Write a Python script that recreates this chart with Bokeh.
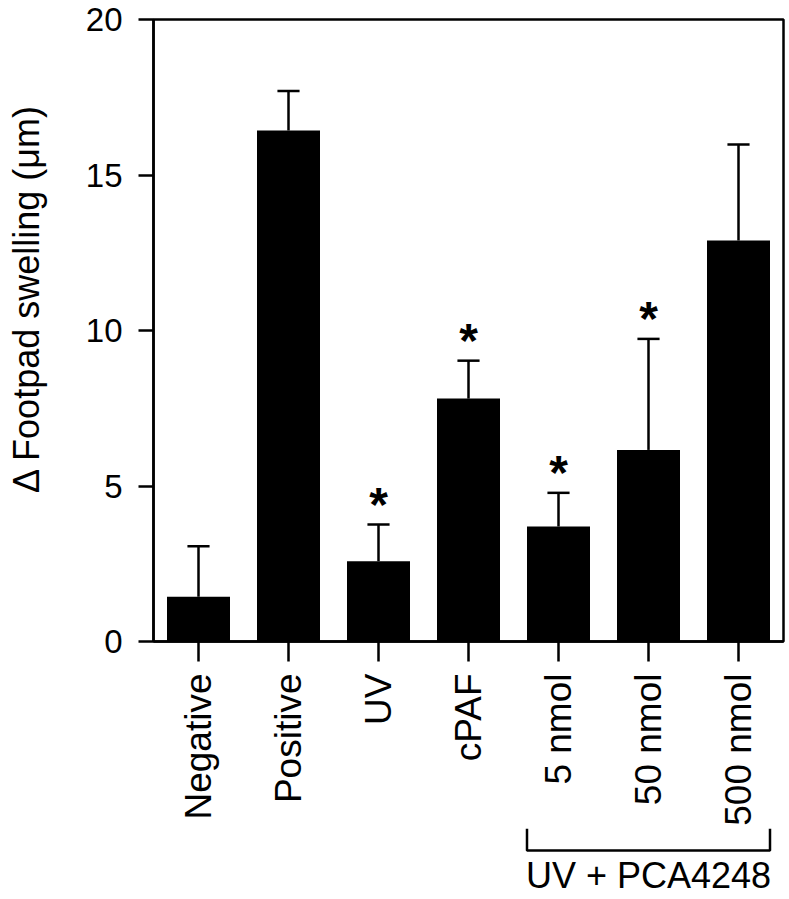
import math
from bokeh.plotting import figure
from bokeh.layouts import column, row
from bokeh.models import Range1d, FixedTicker, ColumnDataSource
from bokeh.core.properties import value
from bokeh.embed import file_html
from bokeh.resources import INLINE

# ---- data ----
categories = ["Negative", "Positive", "UV", "cPAF", "5 nmol", "50 nmol", "500 nmol"]
means = [1.44, 16.43, 2.58, 7.81, 3.70, 6.16, 12.89]
upper = [3.06, 17.70, 3.76, 9.03, 4.78, 9.73, 15.98]
starred = [False, False, True, True, True, True, False]
y_ticks = [0, 5, 10, 15, 20]
y_title = "Δ Footpad swelling (μm)"
group_label = "UV + PCA4248"
group_members = ["5 nmol", "50 nmol", "500 nmol"]

# ---- layout constants ----
TW = 60                 # width of the y-title strip
W = 727                 # width of the chart
H1, H2 = 828, 69        # chart height, bracket strip height
HT = H1 + H2
BL, BR, BT, BB = 93, 4, 19, 185
FONT = "Liberation Sans"
LW = 2.5
BAR_W = 0.7
CAP_HALF = 0.123

xs = list(range(len(categories)))

# ---- main chart ----
p = figure(width=W, height=H1, x_range=Range1d(-0.5, len(categories) - 0.5),
           y_range=Range1d(y_ticks[0], y_ticks[-1]),
           output_backend="svg", toolbar_location=None, title=None,
           min_border_left=BL, min_border_right=BR, min_border_top=BT,
           min_border_bottom=BB)
p.xgrid.visible = False
p.ygrid.visible = False
p.outline_line_color = "black"
p.outline_line_width = LW
p.outline_line_alpha = 1.0
p.background_fill_color = "white"
p.border_fill_color = "white"

src = ColumnDataSource(dict(
    x=xs, mean=means, upper=upper,
    cap_l=[i - CAP_HALF for i in xs], cap_r=[i + CAP_HALF for i in xs]))

p.vbar(x="x", top="mean", bottom=0, width=BAR_W, source=src,
       fill_color="black", line_color=None)
p.segment(x0="x", y0="mean", x1="x", y1="upper", source=src,
          line_color="black", line_width=LW)
p.segment(x0="cap_l", y0="upper", x1="cap_r", y1="upper", source=src,
          line_color="black", line_width=LW)

star_src = ColumnDataSource(dict(
    x=[x for x, s in zip(xs, starred) if s],
    y=[u for u, s in zip(upper, starred) if s],
    t=["*" for s in starred if s]))
p.text(x="x", y="y", text="t", source=star_src, text_font=value(FONT),
       text_font_style="bold", text_font_size="48px", text_align="center",
       text_baseline="middle", y_offset=-20, text_color="black")

# y axis
ya = p.yaxis[0]
ya.ticker = FixedTicker(ticks=y_ticks)
ya.major_label_text_font = FONT
ya.major_label_text_font_size = "33px"
ya.major_label_text_color = "black"
ya.major_tick_out = 15
ya.major_tick_in = 0
ya.minor_tick_out = 0
ya.minor_tick_in = 0
ya.major_tick_line_width = LW
ya.axis_line_width = LW
ya.major_label_standoff = 16

# x axis
xa = p.xaxis[0]
xa.ticker = FixedTicker(ticks=xs)
xa.major_label_overrides = {i: c for i, c in zip(xs, categories)}
xa.major_label_orientation = math.pi / 2
xa.major_label_text_font = FONT
xa.major_label_text_font_size = "37px"
xa.major_label_text_color = "black"
xa.major_tick_out = 20
xa.major_tick_in = 0
xa.minor_tick_out = 0
xa.minor_tick_in = 0
xa.major_tick_line_width = LW
xa.axis_line_width = LW
xa.major_label_standoff = 12

# ---- y-axis title strip (y measured in pixels from the bottom) ----
t = figure(width=TW, height=HT, x_range=Range1d(0, TW), y_range=Range1d(0, HT),
           output_backend="svg", toolbar_location=None, title=None,
           x_axis_location=None, y_axis_location=None,
           min_border_left=0, min_border_right=0, min_border_top=0, min_border_bottom=0)
t.xgrid.visible = False
t.ygrid.visible = False
t.outline_line_color = None
t.background_fill_color = "white"
t.border_fill_color = "white"
t.text(x=[26], y=[HT - 298], text=[y_title], angle=math.pi / 2,
       text_font=value(FONT), text_font_size="36px", text_align="center",
       text_baseline="middle", text_color="black")

# ---- group bracket strip (y in pixels from its top) ----
q = figure(width=W, height=H2, x_range=p.x_range, y_range=Range1d(H2, 0),
           output_backend="svg", toolbar_location=None, title=None,
           x_axis_location=None, y_axis_location=None,
           min_border_left=BL, min_border_right=BR, min_border_top=0, min_border_bottom=0)
q.xgrid.visible = False
q.ygrid.visible = False
q.outline_line_color = None
q.background_fill_color = "white"
q.border_fill_color = "white"

gi = [categories.index(m) for m in group_members]
g_left = min(gi) - 0.35
g_right = max(gi) + 0.35
ARM_TOP, LINE_Y, TEXT_Y = 0, 22, 47
q.line(x=[g_left, g_left, g_right, g_right], y=[ARM_TOP, LINE_Y, LINE_Y, ARM_TOP],
       line_color="black", line_width=LW)
q.text(x=[(min(gi) + max(gi)) / 2], y=[TEXT_Y], text=[group_label],
       text_font=value(FONT), text_font_size="36px", text_align="center",
       text_baseline="middle", text_color="black")

layout = row(t, column(p, q, spacing=0), spacing=0)
open("out.html", "w").write(file_html(layout, INLINE))
